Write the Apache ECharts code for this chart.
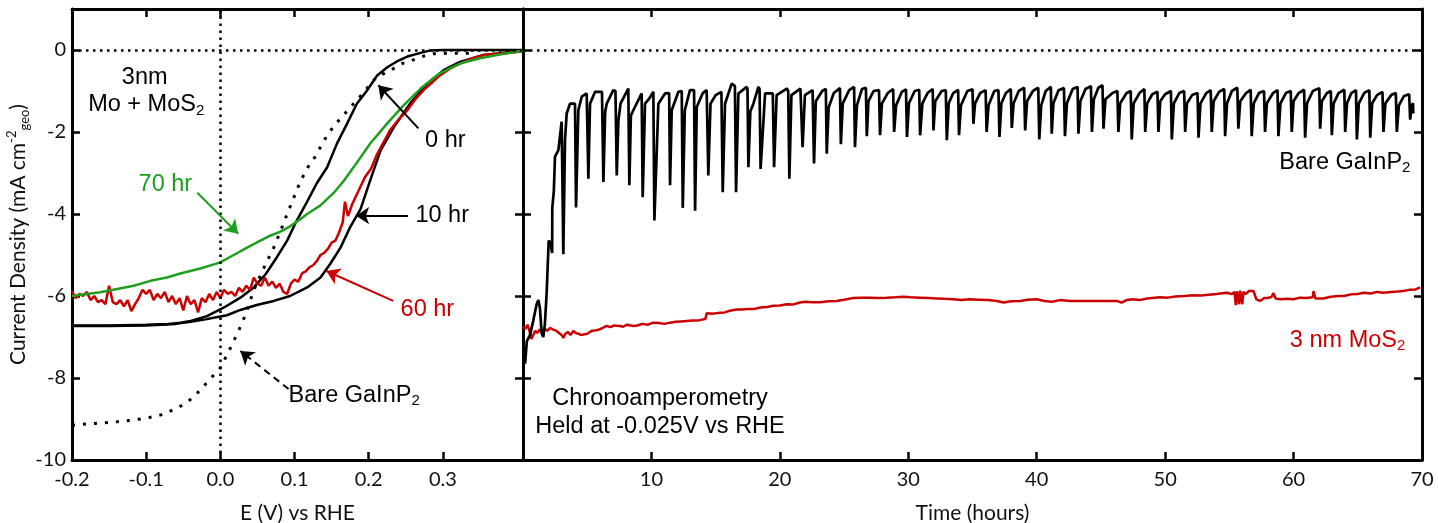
<!DOCTYPE html>
<html><head><meta charset="utf-8">
<script src="https://cdn.jsdelivr.net/npm/echarts@6/dist/echarts.min.js"></script>
<style>html,body{margin:0;padding:0;background:#fff}#c{width:1438px;height:523px}</style>
</head><body><div id="c"></div>
<script>
// ---------- DATA ----------
// Left panel: linear sweeps, [E (V vs RHE), J (mA cm-2)]
const lsvBare = [[-0.2,-9.15],[-0.18,-9.12],[-0.16,-9.1],[-0.14,-9.07],[-0.12,-9.03],[-0.1,-8.98],[-0.08,-8.9],[-0.06,-8.75],[-0.045,-8.6],[-0.03,-8.35],[-0.015,-8.05],[0.0,-7.75],[0.01,-7.4],[0.018,-7.1],[0.027,-6.75],[0.034,-6.45],[0.04,-6.12],[0.047,-5.78],[0.054,-5.5],[0.063,-5.15],[0.072,-4.82],[0.081,-4.42],[0.09,-4.0],[0.099,-3.6],[0.108,-3.2],[0.118,-2.86],[0.128,-2.6],[0.14,-2.2],[0.155,-1.8],[0.164,-1.65],[0.173,-1.43],[0.182,-1.27],[0.197,-0.95],[0.211,-0.65],[0.227,-0.52],[0.245,-0.33],[0.26,-0.24],[0.274,-0.15],[0.287,-0.09],[0.31,-0.08],[0.33,-0.08],[0.345,-0.07]];
const lsv0hr = [[-0.2,-6.72],[-0.15,-6.72],[-0.1,-6.7],[-0.07,-6.68],[-0.054,-6.65],[-0.04,-6.61],[-0.018,-6.49],[0.005,-6.28],[0.027,-6.04],[0.045,-5.79],[0.061,-5.47],[0.076,-5.06],[0.09,-4.65],[0.103,-4.16],[0.117,-3.7],[0.13,-3.25],[0.144,-2.86],[0.157,-2.29],[0.171,-1.79],[0.184,-1.31],[0.198,-0.98],[0.211,-0.63],[0.225,-0.42],[0.238,-0.28],[0.252,-0.16],[0.27,-0.07],[0.283,-0.01],[0.3,0.0],[0.35,0.0],[0.408,0.0]];
const lsv10hr = [[-0.2,-6.73],[-0.15,-6.73],[-0.1,-6.72],[-0.08,-6.7],[-0.06,-6.68],[-0.04,-6.63],[-0.02,-6.57],[-0.009,-6.53],[0.009,-6.47],[0.027,-6.34],[0.049,-6.22],[0.072,-6.12],[0.094,-6.0],[0.117,-5.79],[0.135,-5.55],[0.148,-5.22],[0.162,-4.82],[0.175,-4.32],[0.189,-3.88],[0.202,-3.18],[0.216,-2.45],[0.234,-1.88],[0.256,-1.3],[0.279,-0.82],[0.301,-0.49],[0.323,-0.29],[0.355,-0.12],[0.377,-0.08],[0.398,-0.04],[0.408,-0.02]];
const lsv60hr = [[-0.2,-5.88],[-0.195,-6.05],[-0.19,-5.95],[-0.185,-6.0],[-0.18,-5.9],[-0.175,-6.1],[-0.17,-6.0],[-0.165,-6.15],[-0.16,-6.1],[-0.155,-6.2],[-0.15,-5.75],[-0.145,-6.15],[-0.14,-6.2],[-0.135,-6.1],[-0.13,-6.25],[-0.125,-6.1],[-0.12,-6.37],[-0.115,-6.2],[-0.11,-6.05],[-0.105,-5.85],[-0.1,-5.95],[-0.095,-5.85],[-0.09,-6.1],[-0.085,-5.95],[-0.08,-6.05],[-0.075,-5.9],[-0.07,-6.15],[-0.065,-6.0],[-0.06,-6.2],[-0.055,-6.05],[-0.05,-6.35],[-0.045,-6.0],[-0.04,-6.2],[-0.035,-6.1],[-0.03,-6.4],[-0.025,-6.05],[-0.02,-6.15],[-0.015,-5.95],[-0.01,-6.1],[-0.005,-5.9],[0.0,-6.05],[0.005,-5.85],[0.01,-5.95],[0.015,-5.9],[0.02,-6.0],[0.025,-5.8],[0.03,-5.9],[0.035,-5.75],[0.04,-5.85],[0.045,-5.55],[0.05,-5.7],[0.055,-5.75],[0.06,-5.55],[0.065,-5.75],[0.07,-5.65],[0.075,-5.8],[0.08,-5.7],[0.085,-5.9],[0.09,-5.95],[0.095,-5.7],[0.1,-5.6],[0.105,-5.65],[0.11,-5.45],[0.115,-5.4],[0.12,-5.3],[0.125,-5.25],[0.13,-5.15],[0.135,-5.0],[0.14,-4.95],[0.145,-4.85],[0.15,-4.7],[0.155,-4.65],[0.16,-4.45],[0.165,-4.2],[0.168,-3.7],[0.172,-4.05],[0.178,-3.75],[0.185,-3.48],[0.195,-3.1],[0.203,-2.9],[0.211,-2.55],[0.22,-2.25],[0.229,-1.95],[0.24,-1.7],[0.252,-1.47],[0.263,-1.2],[0.274,-0.98],[0.285,-0.8],[0.296,-0.62],[0.31,-0.45],[0.323,-0.33],[0.34,-0.2],[0.355,-0.12],[0.37,-0.1],[0.385,-0.08],[0.4,-0.05],[0.408,-0.02]];
const lsv70hr = [[-0.2,-6.0],[-0.18,-5.95],[-0.162,-5.91],[-0.139,-5.83],[-0.117,-5.75],[-0.094,-5.63],[-0.072,-5.55],[-0.054,-5.45],[-0.027,-5.33],[0.0,-5.18],[0.018,-5.0],[0.036,-4.82],[0.052,-4.67],[0.067,-4.53],[0.081,-4.43],[0.094,-4.3],[0.106,-4.15],[0.117,-4.0],[0.135,-3.79],[0.153,-3.48],[0.166,-3.2],[0.18,-2.85],[0.202,-2.28],[0.225,-1.79],[0.247,-1.35],[0.27,-0.94],[0.285,-0.72],[0.296,-0.57],[0.31,-0.44],[0.323,-0.33],[0.35,-0.2],[0.373,-0.12],[0.39,-0.07],[0.408,-0.02]];

// Right panel: chronoamperometry, [time (h), J (mA cm-2)]
const caBare = [[0.05,-7.3],[0.16,-7.65],[0.3,-7.1],[0.55,-6.95],[0.8,-6.6],[1.06,-6.2],[1.2,-6.1],[1.32,-6.3],[1.45,-6.9],[1.58,-7.0],[1.7,-6.7],[1.84,-5.95],[2.0,-4.65],[2.14,-4.7],[2.27,-4.95],[2.28,-3.85],[2.4,-3.45],[2.49,-2.6],[2.75,-2.45],[2.88,-2.1],[3.01,-1.75],
[3.14,-4.98],[3.27,-2.2],[3.4,-1.55],[3.66,-1.31],[4.05,-1.31],
[4.13,-3.84],[4.31,-1.47],[4.57,-1.14],[4.96,-1.06],
[5.09,-3.14],[5.22,-1.31],[5.61,-1.02],[6.15,-1.02],
[6.26,-3.22],[6.4,-1.5],[6.52,-1.31],[7.03,-0.98],[7.2,-1.0],
[7.3,-3.06],[7.43,-1.71],[7.6,-1.3],[8.2,-0.94],
[8.28,-3.3],[8.4,-1.6],[8.59,-1.47],[9.24,-1.06],
[9.32,-3.59],[9.5,-1.31],[9.8,-1.2],[10.15,-1.02],
[10.23,-4.16],[10.54,-1.31],[11.06,-1.06],[11.38,-1.05],
[11.45,-3.3],[11.58,-1.47],[12.1,-1.02],[12.36,-1.0],
[12.44,-3.85],[12.6,-1.47],[13.0,-0.98],[13.32,-0.98],
[13.4,-3.92],[13.53,-1.39],[14.0,-1.05],[14.3,-0.98],
[14.43,-3.06],[14.6,-1.31],[15.0,-1.1],[15.45,-1.02],
[15.55,-3.47],[15.73,-1.31],[16.25,-0.82],[16.5,-0.88],
[16.59,-3.47],[16.77,-1.06],[17.42,-0.9],[17.48,-0.95],
[17.55,-2.86],[17.7,-1.5],[17.94,-1.31],[18.33,-0.9],[18.42,-0.95],
[18.5,-2.9],[18.85,-1.06],[19.45,-1.06],
[19.55,-2.86],[19.75,-1.1],[20.54,-0.94],[20.65,-1.0],
[20.74,-3.14],[20.9,-1.1],[21.6,-0.94],[21.7,-0.96],
[21.77,-2.37],[21.95,-1.1],[22.55,-0.98],
[22.66,-2.77],[22.8,-1.25],[23.3,-1.0],[23.58,-0.95],
[23.65,-2.53],[23.8,-1.4],[24.2,-1.05],[24.68,-0.93],
[24.75,-2.3],[24.9,-1.3],[25.4,-0.98],[25.78,-0.9],
[25.85,-2.37],[26.0,-1.35],[26.4,-0.95],[26.7,-0.92],
[26.77,-2.1],[26.9,-1.25],[27.3,-1.0],[27.72,-0.98],
[27.8,-2.08],[27.95,-1.3],[28.4,-1.05],[28.82,-0.95],
[28.9,-2.0],[29.05,-1.35],[29.5,-1.02],[29.82,-0.96],
[29.9,-2.12],[30.05,-1.3],[30.5,-1.0],[30.85,-0.97],
[30.92,-2.08],[31.1,-1.3],[31.5,-1.05],[31.9,-0.95],
[31.96,-1.96],[32.1,-1.25],[32.6,-1.0],[32.92,-0.98],
[33.0,-2.2],[33.15,-1.3],[33.5,-1.05],[33.88,-0.97],
[33.95,-2.08],[34.1,-1.35],[34.6,-1.0],[35.0,-0.96],
[35.07,-1.8],[35.2,-1.3],[35.6,-1.05],[36.02,-0.98],
[36.1,-2.0],[36.25,-1.35],[36.7,-1.0],[37.02,-0.98],
[37.1,-2.12],[37.25,-1.3],[37.6,-1.05],[37.98,-0.95],
[38.06,-1.9],[38.2,-1.3],[38.6,-1.0],[39.02,-0.92],
[39.1,-1.96],[39.25,-1.25],[39.7,-1.0],[40.12,-0.92],
[40.2,-2.18],[40.35,-1.35],[40.7,-1.0],[41.1,-0.9],
[41.17,-2.04],[41.3,-1.3],[41.7,-0.98],[42.12,-0.93],
[42.2,-2.1],[42.35,-1.3],[42.8,-0.95],[43.18,-0.9],
[43.25,-2.04],[43.4,-1.25],[43.8,-0.95],[44.22,-0.88],
[44.3,-2.0],[44.45,-1.2],[44.8,-0.92],[45.12,-0.86],
[45.2,-1.92],[45.35,-1.2],[45.9,-1.05],[46.28,-1.0],
[46.36,-2.0],[46.5,-1.3],[47.0,-1.05],[47.32,-1.0],
[47.4,-2.18],[47.55,-1.3],[48.0,-1.05],[48.38,-0.95],
[48.45,-2.0],[48.6,-1.3],[49.0,-1.08],[49.4,-1.02],
[49.48,-2.0],[49.62,-1.25],[50.0,-1.08],[50.45,-1.0],
[50.52,-2.18],[50.68,-1.3],[51.1,-1.05],[51.48,-1.0],
[51.56,-2.0],[51.7,-1.3],[52.1,-1.1],[52.52,-1.05],
[52.6,-2.14],[52.75,-1.3],[53.2,-1.05],[53.55,-0.98],
[53.63,-2.0],[53.78,-1.25],[54.2,-1.02],[54.6,-0.95],
[54.67,-2.1],[54.82,-1.3],[55.2,-1.0],[55.62,-0.92],
[55.7,-1.92],[55.85,-1.25],[56.3,-1.05],[56.66,-0.97],
[56.74,-2.1],[56.9,-1.3],[57.3,-1.05],[57.7,-1.0],
[57.78,-2.0],[57.92,-1.3],[58.4,-1.05],[58.75,-0.98],
[58.82,-2.1],[58.98,-1.3],[59.4,-1.05],[59.78,-1.0],
[59.86,-2.0],[60.0,-1.25],[60.4,-1.05],[60.82,-0.97],
[60.9,-2.14],[61.05,-1.3],[61.5,-1.0],[62.0,-0.93],
[62.07,-1.92],[62.2,-1.25],[62.6,-1.05],[62.9,-1.0],
[62.98,-2.08],[63.12,-1.3],[63.5,-1.05],[63.95,-0.97],
[64.02,-2.0],[64.16,-1.3],[64.5,-1.05],[64.86,-0.98],
[64.93,-2.18],[65.08,-1.3],[65.5,-1.05],[65.9,-0.98],
[65.97,-2.14],[66.12,-1.3],[66.5,-1.1],[66.92,-1.02],
[67.0,-2.0],[67.15,-1.3],[67.6,-1.1],[67.96,-1.05],
[68.04,-2.0],[68.2,-1.35],[68.6,-1.12],[69.0,-1.08],
[69.08,-1.7],[69.2,-1.35],[69.3,-1.3],[69.32,-1.55]];
const caMoS2 = [[0.0,-6.75],[0.2,-6.8],[0.35,-6.7],[0.5,-6.85],[0.65,-7.05],[0.8,-6.95],[0.95,-6.85],[1.1,-6.9],[1.3,-6.82],[1.5,-6.88],[1.7,-6.8],[1.9,-6.85],[2.1,-6.78],[2.36,-6.82],[2.6,-6.85],[2.8,-6.9],[3.0,-6.95],[3.14,-7.02],[3.3,-6.92],[3.5,-6.88],[3.7,-6.95],[3.92,-6.85],[4.1,-6.9],[4.3,-6.92],[4.5,-6.95],[4.7,-6.94],[5.0,-6.92],[5.35,-6.85],[5.6,-6.84],[5.9,-6.82],[6.2,-6.78],[6.52,-6.73],[6.8,-6.76],[7.1,-6.72],[7.55,-6.73],[7.8,-6.75],[8.1,-6.7],[8.59,-6.73],[8.9,-6.72],[9.3,-6.68],[9.7,-6.7],[10.15,-6.65],[10.6,-6.66],[11.0,-6.68],[11.45,-6.65],[11.9,-6.63],[12.3,-6.62],[12.75,-6.61],[13.2,-6.6],[13.6,-6.6],[14.04,-6.57],[14.2,-6.56],[14.3,-6.42],[14.8,-6.43],[15.34,-6.41],[15.7,-6.4],[16.1,-6.36],[16.64,-6.33],[17.0,-6.33],[17.5,-6.32],[17.94,-6.32],[18.5,-6.28],[19.0,-6.27],[19.5,-6.24],[20.0,-6.23],[20.54,-6.2],[21.0,-6.21],[21.57,-6.16],[22.0,-6.14],[22.5,-6.15],[23.13,-6.15],[23.8,-6.13],[24.43,-6.12],[25.0,-6.09],[25.72,-6.05],[26.3,-6.04],[27.0,-6.04],[27.6,-6.05],[28.32,-6.04],[29.0,-6.03],[29.6,-6.02],[30.2,-6.03],[30.92,-6.04],[31.6,-6.05],[32.2,-6.06],[32.8,-6.07],[33.51,-6.08],[34.1,-6.1],[34.81,-6.08],[35.5,-6.09],[36.2,-6.1],[36.9,-6.12],[37.41,-6.16],[38.0,-6.13],[38.7,-6.12],[39.3,-6.09],[40.0,-6.08],[40.6,-6.12],[41.2,-6.14],[41.8,-6.1],[42.6,-6.12],[43.5,-6.12],[44.5,-6.12],[45.5,-6.12],[46.24,-6.12],[46.6,-6.16],[47.0,-6.1],[47.53,-6.08],[48.0,-6.1],[48.6,-6.06],[49.6,-6.03],[50.2,-6.04],[50.8,-6.01],[51.5,-6.0],[52.2,-5.98],[52.8,-5.99],[53.4,-5.97],[54.0,-5.95],[54.8,-5.92],[55.2,-5.95],[55.4,-5.9],[55.5,-6.22],[55.6,-5.88],[55.75,-6.2],[55.85,-5.87],[56.0,-6.2],[56.1,-5.9],[56.3,-5.95],[56.5,-5.88],[56.88,-5.88],[57.1,-6.08],[57.4,-6.12],[57.7,-6.05],[58.0,-6.05],[58.3,-6.02],[58.43,-5.93],[58.6,-6.06],[59.0,-6.08],[59.5,-6.07],[60.0,-6.08],[60.5,-6.04],[61.0,-6.05],[61.5,-6.03],[61.55,-5.88],[61.7,-6.06],[62.3,-6.06],[62.9,-6.02],[63.5,-6.0],[63.89,-6.0],[64.5,-5.96],[65.0,-5.95],[65.45,-5.92],[66.0,-5.94],[66.5,-5.9],[67.0,-5.92],[67.6,-5.9],[68.1,-5.89],[68.56,-5.88],[69.0,-5.85],[69.5,-5.84],[69.86,-5.79]];

// Tick values
const xLabelsLeft = [-0.2,-0.1,0.0,0.1,0.2,0.3];
const xTicksLeft = [-0.1,0.0,0.1,0.2,0.3];
const xLabelsRight = [10,20,30,40,50,60,70];
const xTicksRight = [10,20,30,40,50,60];
const yLabels = [-10,-8,-6,-4,-2,0];
const yTicks = [-8,-6,-4,-2,0];

// Arrows (data coordinates of left panel): [from, to]
const arrow0hr = [[0.267,-1.91],[0.213,-0.86]];
const arrow10hr = [[0.253,-4.04],[0.183,-4.04]];
const arrow70hr = [[-0.031,-3.48],[0.024,-4.48]];
const arrow60hr = [[0.233,-6.12],[0.143,-5.39]];
const arrowBare = [[0.092,-8.27],[0.027,-7.34]];

// ---------- CHART ----------
const RED = '#cc0000', GREEN = '#1f9e1f', BLACK = '#000';
const TICKFONT = 'Lato, "Open Sans", sans-serif';
const NOTEFONT = '"Liberation Sans", Arial, sans-serif';

function ax(extra) {
  return Object.assign({
    type: 'value',
    axisLine: { show: true, onZero: false, lineStyle: { color: BLACK, width: 3 } },
    axisTick: { show: true, inside: true, length: 8, lineStyle: { color: BLACK, width: 2.5 } },
    splitLine: { show: false },
    axisLabel: { show: false }
  }, extra);
}
function ticks(vals) { return { show: true, inside: true, length: 8, customValues: vals, lineStyle: { color: BLACK, width: 2.5 } }; }
function labels(vals, fmt, margin) {
  return { show: true, customValues: vals, formatter: fmt, margin: margin, color: '#111', fontFamily: TICKFONT, fontSize: 20 };
}
function arrowLine(a, color, type) {
  return [{ coord: a[0], symbol: 'none', lineStyle: { color: color, width: 2, type: type || 'solid' } },
          { coord: a[1], symbol: 'arrow', symbolSize: 13 }];
}

const chart = echarts.init(document.getElementById('c'), null, { renderer: 'canvas' });
const option = {
  animation: false,
  backgroundColor: '#fff',
  grid: [
    { left: 72, top: 9, width: 451, height: 451, containLabel: false, outerBoundsMode: 'none' },
    { left: 523, top: 9, width: 899, height: 451, containLabel: false, outerBoundsMode: 'none' }
  ],
  xAxis: [
    ax({ gridIndex: 0, position: 'bottom', min: -0.2, max: 0.408, axisTick: ticks(xTicksLeft),
         axisLabel: labels(xLabelsLeft, v => v.toFixed(1), 10),
         name: 'E (V) vs RHE', nameLocation: 'middle', nameGap: 43,
         nameTextStyle: { fontFamily: TICKFONT, fontSize: 21, color: '#111' } }),
    ax({ gridIndex: 0, position: 'top', min: -0.2, max: 0.408, axisTick: ticks(xTicksLeft) }),
    ax({ gridIndex: 1, position: 'bottom', min: 0, max: 70, axisTick: ticks(xTicksRight),
         axisLabel: labels(xLabelsRight, v => String(v), 10),
         name: 'Time (hours)', nameLocation: 'middle', nameGap: 43,
         nameTextStyle: { fontFamily: TICKFONT, fontSize: 21, color: '#111' } }),
    ax({ gridIndex: 1, position: 'top', min: 0, max: 70, axisTick: ticks(xTicksRight) })
  ],
  yAxis: [
    ax({ gridIndex: 0, position: 'left', min: -10, max: 1, axisTick: ticks(yTicks),
         axisLabel: labels(yLabels, v => String(v), 6),
         name: 'Current Density (mA cm{sup|-2}{sub|geo})', nameLocation: 'middle', nameGap: 33, nameRotate: 90,
         nameTextStyle: { fontFamily: TICKFONT, fontSize: 21, color: '#111', lineHeight: 26,
           rich: { sup: { fontFamily: TICKFONT, fontSize: 13, color: '#111', verticalAlign: 'top', lineHeight: 13 },
                   sub: { fontFamily: TICKFONT, fontSize: 13, color: '#111', verticalAlign: 'bottom', lineHeight: 8 } } } }),
    ax({ gridIndex: 0, position: 'right', min: -10, max: 1, axisTick: ticks(yTicks) }),
    ax({ gridIndex: 1, position: 'left', min: -10, max: 1, axisTick: ticks(yTicks) }),
    ax({ gridIndex: 1, position: 'right', min: -10, max: 1, axisTick: ticks(yTicks) })
  ],
  series: [
    { name: 'Bare GaInP2 LSV', type: 'line', xAxisIndex: 0, yAxisIndex: 0, data: lsvBare, showSymbol: false, silent: true,
      lineStyle: { color: BLACK, width: 3, type: [3, 8] },
      markLine: { silent: true, symbol: 'none', label: { show: false }, data: [arrowLine(arrowBare, BLACK, [7, 5])] } },
    { name: '0 hr', type: 'line', xAxisIndex: 0, yAxisIndex: 0, data: lsv0hr, showSymbol: false, silent: true,
      lineStyle: { color: BLACK, width: 2.5 },
      markLine: { silent: true, symbol: 'none', label: { show: false },
        data: [arrowLine(arrow0hr, BLACK), arrowLine(arrow10hr, BLACK),
               [{ coord: [-0.2, 0], symbol: 'none', lineStyle: { color: BLACK, width: 2.5, type: [2.5, 4.5] } }, { coord: [0.408, 0], symbol: 'none' }],
               [{ coord: [0, -10], symbol: 'none', lineStyle: { color: BLACK, width: 2.5, type: [2.5, 4.5] } }, { coord: [0, 1], symbol: 'none' }]] } },
    { name: '10 hr', type: 'line', xAxisIndex: 0, yAxisIndex: 0, data: lsv10hr, showSymbol: false, silent: true,
      lineStyle: { color: BLACK, width: 2.5 } },
    { name: '60 hr', type: 'line', xAxisIndex: 0, yAxisIndex: 0, data: lsv60hr, showSymbol: false, silent: true,
      lineStyle: { color: RED, width: 2.5 },
      markLine: { silent: true, symbol: 'none', label: { show: false }, data: [arrowLine(arrow60hr, RED)] } },
    { name: '70 hr', type: 'line', xAxisIndex: 0, yAxisIndex: 0, data: lsv70hr, showSymbol: false, silent: true,
      lineStyle: { color: GREEN, width: 2.5 },
      markLine: { silent: true, symbol: 'none', label: { show: false }, data: [arrowLine(arrow70hr, GREEN)] } },
    { name: '3 nm MoS2 CA', type: 'line', xAxisIndex: 2, yAxisIndex: 2, data: caMoS2, showSymbol: false, silent: true,
      lineStyle: { color: RED, width: 2.5 },
      markLine: { silent: true, symbol: 'none', label: { show: false },
        data: [[{ coord: [0, 0], symbol: 'none', lineStyle: { color: BLACK, width: 2.5, type: [2.5, 4.5] } }, { coord: [70, 0], symbol: 'none' }]] } },
    { name: 'Bare GaInP2 CA', type: 'line', xAxisIndex: 2, yAxisIndex: 2, data: caBare, showSymbol: false, silent: true,
      lineStyle: { color: BLACK, width: 2.7 } }
  ]
};
chart.setOption(option);

// ---------- TEXT ANNOTATIONS (anchored in data coordinates) ----------
const subRich = { sub: { fontSize: 15, fontFamily: NOTEFONT, verticalAlign: 'bottom', lineHeight: 9 } };
const notes = [
  { ax: 0, at: [-0.102, -0.66], text: '3nm', color: BLACK, align: 'center' },
  { ax: 0, at: [-0.100, -1.33], text: 'Mo + MoS{sub|2}', color: BLACK, align: 'center' },
  { ax: 0, at: [0.276, -2.2], text: '0 hr', color: BLACK, align: 'left' },
  { ax: 0, at: [0.263, -4.04], text: '10 hr', color: BLACK, align: 'left' },
  { ax: 0, at: [-0.038, -3.28], text: '70 hr', color: GREEN, align: 'right' },
  { ax: 0, at: [0.243, -6.34], text: '60 hr', color: RED, align: 'left' },
  { ax: 0, at: [0.092, -8.42], text: 'Bare GaInP{sub|2}', color: BLACK, align: 'left' },
  { ax: 2, at: [69.1, -2.74], text: 'Bare GaInP{sub|2}', color: BLACK, align: 'right' },
  { ax: 2, at: [68.7, -7.08], text: '3 nm MoS{sub|2}', color: RED, align: 'right' },
  { ax: 2, at: [10.67, -8.5], text: 'Chronoamperometry', color: BLACK, align: 'center' },
  { ax: 2, at: [10.67, -9.18], text: 'Held at -0.025V vs RHE', color: BLACK, align: 'center' }
];
const graphics = notes.map(n => {
  const p = chart.convertToPixel({ xAxisIndex: n.ax, yAxisIndex: n.ax }, n.at);
  return { type: 'text', x: p[0], y: p[1], silent: true, z: 100,
    style: { text: n.text, fill: n.color, fontFamily: NOTEFONT, fontSize: 23.5, lineHeight: 27,
             align: n.align, verticalAlign: 'middle', rich: subRich } };
});
chart.setOption({ graphic: graphics });
</script>
</body></html>
